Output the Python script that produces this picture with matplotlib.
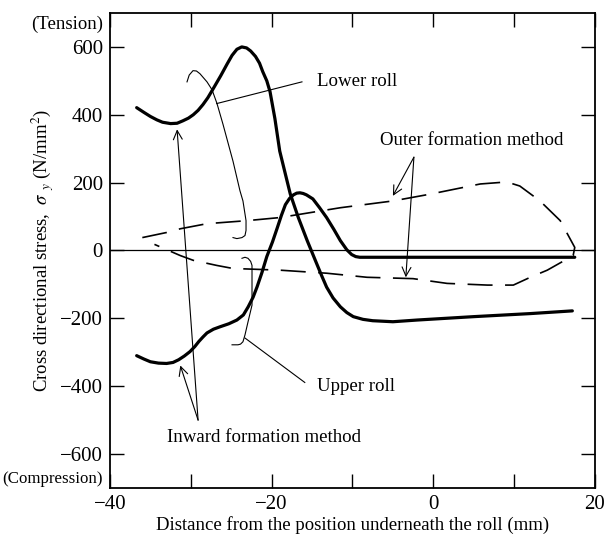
import numpy as np
import matplotlib
matplotlib.use("Agg")
import matplotlib.pyplot as plt

plt.rcParams["font.family"] = ["Liberation Serif", "DejaVu Serif"]
plt.rcParams["mathtext.fontset"] = "stix"
plt.rcParams["lines.scale_dashes"] = False

# Inward formation method, lower roll
lower_x = [-36.7, -35.8, -35.0, -34.2, -33.5, -32.5, -31.7, -31.0, -30.3, -29.7, -29.1, -28.5,
           -27.9, -27.3, -26.3, -25.5, -24.9, -24.3, -23.7, -23.1, -22.6, -22.0, -21.5,
           -21.1, -20.6, -20.2, -19.6, -19.0, -18.3, -17.7, -16.7, -15.6, -14.6, -13.8,
           -13.2, -12.4, -11.5, -10.7, -9.9, -8.7, -7.5, -5.0, -2.0, 5.0, 12.0, 17.2]
lower_y = [421, 407, 395, 385, 378, 374, 375, 382, 390, 400, 413, 430,
           450, 474, 515, 550, 575, 593, 600, 597, 588, 572, 552,
           527, 500, 468, 389, 293, 225, 167, 97, 29, -29, -75,
           -108, -140, -166, -183, -195, -203, -207, -210, -205, -195, -186, -178]

# Inward formation method, upper roll
upper_x = [-36.7, -35.8, -35.0, -34.0, -33.0, -32.2, -31.5, -30.8, -30.1, -29.5, -29.0, -28.5,
           -28.0, -27.2, -26.4, -25.3, -24.3, -23.5, -22.9, -22.3, -21.8, -21.2, -20.6,
           -19.9, -19.3, -18.8, -18.3, -17.8, -17.3, -16.9, -16.5, -16.1, -15.7, -14.9,
           -14.1, -13.2, -12.3, -11.5, -10.7, -10.1, -9.6, -9.1, 0.0, 10.0, 17.5]
upper_y = [-310, -320, -328, -332, -333, -330, -322, -311, -298, -283, -268, -255,
           -243, -232, -225, -216, -205, -190, -166, -138, -107, -65, -18,
           25, 67, 103, 135, 153, 164, 169, 170, 168, 164, 152,
           127, 97, 62, 29, 2, -12, -18, -20, -20, -20, -20]

# Outer formation method (one loop: top branch then bottom branch)
outer_top_x = [-36.0, -33.0, -31.3, -28.0, -23.0, -19.0, -11.5, -5.0, -0.4, 5.8, 9.1,
               10.7, 13.2, 15.7, 17.5]
outer_top_y = [38, 53, 64, 79, 88, 97, 126, 146, 166, 196, 202,
               190, 146, 88, 9]
outer_bot_x = [17.3, 14.1, 12.0, 9.9, 6.7, 1.7, -2.5, -8.2, -13.2, -19.0, -24.8,
               -26.8, -29.7, -31.3, -34.5]
outer_bot_y = [-15, -58, -79, -102, -102, -97, -83, -79, -67, -58, -53,
               -44, -29, -15, 18]

x_major = [-40, -20, 0, 20]
x_minor = [-30, -10, 10]
y_ticks = [-600, -400, -200, 0, 200, 400, 600]

fig = plt.figure(figsize=(6.06, 5.41), dpi=100)
ax = fig.add_axes([0.1815, 0.098, 0.8003, 0.878])

ax.axhline(0, color="black", lw=0.9)

ax.plot(lower_x, lower_y, color="black", lw=2.3, solid_joinstyle="round", solid_capstyle="round")
ax.plot(upper_x, upper_y, color="black", lw=2.3, solid_joinstyle="round", solid_capstyle="round")
ax.plot(outer_top_x + outer_bot_x, outer_top_y + outer_bot_y, color="black", lw=1.2,
        dashes=(18, 9), dash_capstyle="butt")

# curly brackets grouping each roll's curves
thin = dict(color="black", lw=0.8, solid_joinstyle="round")
brk1_x = [-30.47, -30.2, -29.73, -29.3, -28.87, -28.0, -27.38, -26.76, -26.02, -24.78,
          -23.92, -23.55, -23.17, -23.17, -23.3, -23.67, -24.3, -24.78]
brk1_y = [497, 517, 530, 529, 521, 497, 474, 433, 372, 263,
          176, 146, 88, 59, 44, 38, 35, 38]
brk2_x = [-23.67, -23.3, -22.93, -22.6, -22.43, -22.43, -22.43, -22.93, -23.3, -23.55,
          -23.85, -24.16, -24.9]
brk2_y = [-23, -20, -23, -32, -44, -102, -161, -211, -249, -269,
          -276, -278, -278]
ax.plot(brk1_x, brk1_y, **thin)
ax.plot(brk2_x, brk2_y, **thin)

label_size = 13.6
ax.plot([-26.8, -16.25], [433, 497], **thin)
ax.text(-14.4, 497, "Lower roll", fontsize=label_size, va="center", ha="left")
ax.plot([-23.3, -15.9], [-258, -389], **thin)
ax.text(-14.4, -400, "Upper roll", fontsize=label_size, va="center", ha="left")

arrow = dict(arrowstyle="->", lw=0.8, color="black", shrinkA=0, shrinkB=0, mutation_scale=16)
ax.annotate("", xy=(-31.7, 357), xytext=(-29.1, -500), arrowprops=arrow)
ax.annotate("", xy=(-31.3, -339), xytext=(-29.1, -500), arrowprops=arrow)
ax.text(-32.95, -550, "Inward formation method", fontsize=label_size, va="center", ha="left")

ax.annotate("", xy=(-5.0, 161), xytext=(-2.4, 275), arrowprops=arrow)
ax.annotate("", xy=(-3.4, -79), xytext=(-2.4, 275), arrowprops=arrow)
ax.text(-6.6, 325, "Outer formation method", fontsize=label_size, va="center", ha="left")

ax.set_xlim(-40, 20)
ax.set_ylim(-700, 700)
ax.set_xticks(x_major)
ax.set_xticks(x_minor, minor=True)
ax.set_yticks(y_ticks)
ax.tick_params(which="both", direction="in", length=10, width=1.0, top=True, right=True,
               labelsize=15, pad=5)
for s in ax.spines.values():
    s.set_linewidth(1.3)

ax.text(-0.015, 667, "(Tension)", transform=ax.get_yaxis_transform(), ha="right", va="center",
        fontsize=13.5)
ax.text(-0.015, -673, "(Compression)", transform=ax.get_yaxis_transform(), ha="right",
        va="center", fontsize=12.2)

ax.set_xlabel("Distance from the position underneath the roll (mm)", fontsize=13.5, labelpad=1.5)
ax.set_ylabel(r"Cross directional stress,  $\sigma$ $_{y}$ (N/mm$^{2}$)", fontsize=13.5,
              labelpad=3)

fig.savefig("out.png", dpi=100)
